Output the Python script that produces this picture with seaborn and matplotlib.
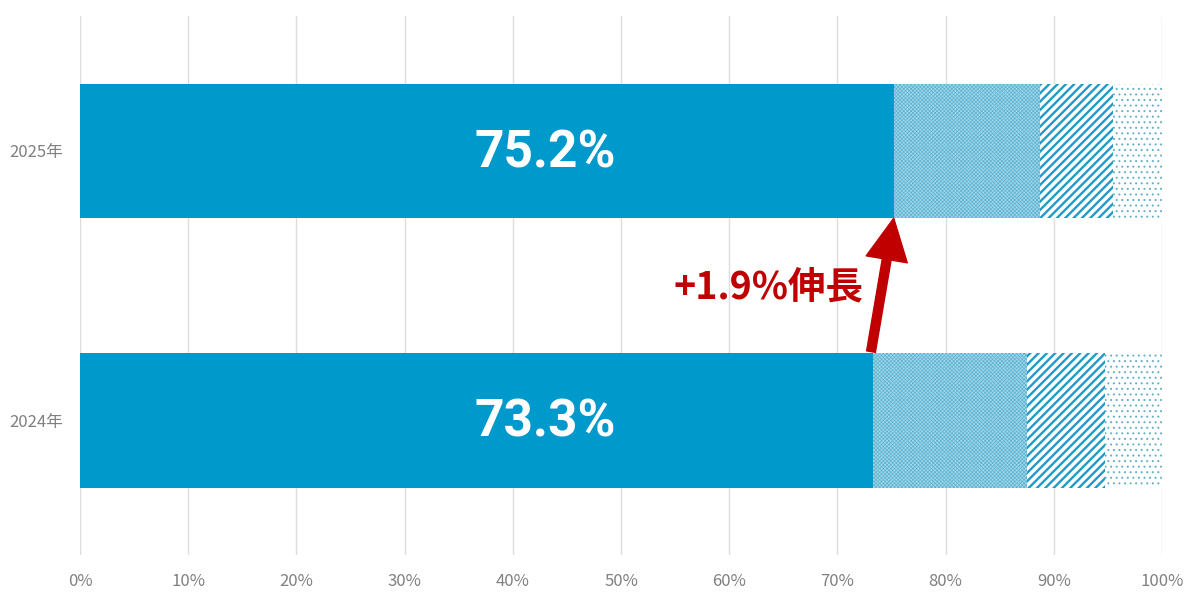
import matplotlib
matplotlib.use("Agg")
import matplotlib.pyplot as plt
import numpy as np
import pandas as pd
import seaborn as sns

# データ
years = ["2025年", "2024年"]
seg1 = [75.2, 73.3]
seg2 = [13.5, 14.2]
seg3 = [6.8, 7.2]
seg4 = [4.5, 5.3]
xticks = [0, 10, 20, 30, 40, 50, 60, 70, 80, 90, 100]
growth_text = "+1.9%伸長"

sns.set_theme(style="white")
plt.rcParams["font.family"] = ["Noto Sans CJK JP", "DejaVu Sans"]

fig = plt.figure(figsize=(12, 6), dpi=100)
ax = fig.add_axes([0.0667, 0.075, 0.9017, 0.898])

# 積み上げ(右端から順に重ねて描画)
cum = np.cumsum(np.array([seg1, seg2, seg3, seg4]), axis=0)
estilos = [
    dict(color="#0099cc", edgecolor="#0099cc", linewidth=0),
    dict(color="#a3d5e6", edgecolor="#5cb5d4", hatch="xxxxxxxxx", linewidth=0),
    dict(color="white", edgecolor="#1f9bc9", hatch="////", linewidth=0),
    dict(color="white", edgecolor="#62b0c8", hatch="...", linewidth=0),
]
hatch_lw = [1.0, 0.5, 1.7, 0.7]
for i in reversed(range(4)):
    df = pd.DataFrame({"year": years, "val": cum[i]})
    with plt.rc_context({"hatch.linewidth": hatch_lw[i]}):
        sns.barplot(data=df, x="val", y="year", order=years, orient="h",
                    width=0.5, saturation=1, ax=ax, **estilos[i])

for j, v in enumerate(seg1):
    ax.text(43, j + 0.01, f"{v}%", color="white", fontsize=37, fontweight="bold",
            ha="center", va="center", family=["Roboto", "DejaVu Sans"])

# 伸長の注記
ax.annotate("", xy=(seg1[0], 0.25), xytext=(73.1, 0.745),
            arrowprops=dict(arrowstyle="simple,head_width=1.5,head_length=1.5,tail_width=0.32",
                            mutation_scale=20, color="#c00000", shrinkA=0, shrinkB=0))
ax.text(72.4, 0.505, growth_text, color="#c00000", fontsize=27, fontweight="bold",
        ha="right", va="center")

ax.set_xlim(0, 100)
ax.set_ylim(1.5, -0.5)
ax.set_xticks(xticks)
ax.set_xticklabels([f"{t}%" for t in xticks])
ax.grid(axis="x", color="#dddddd", linewidth=1)
ax.set_axisbelow(True)
for s in ax.spines.values():
    s.set_visible(False)
ax.tick_params(axis="both", length=0, labelsize=12, labelcolor="#808080")
ax.tick_params(axis="x", pad=13)
ax.tick_params(axis="y", pad=12)
ax.set_xlabel("")
ax.set_ylabel("")

fig.savefig("out.png", dpi=100)
